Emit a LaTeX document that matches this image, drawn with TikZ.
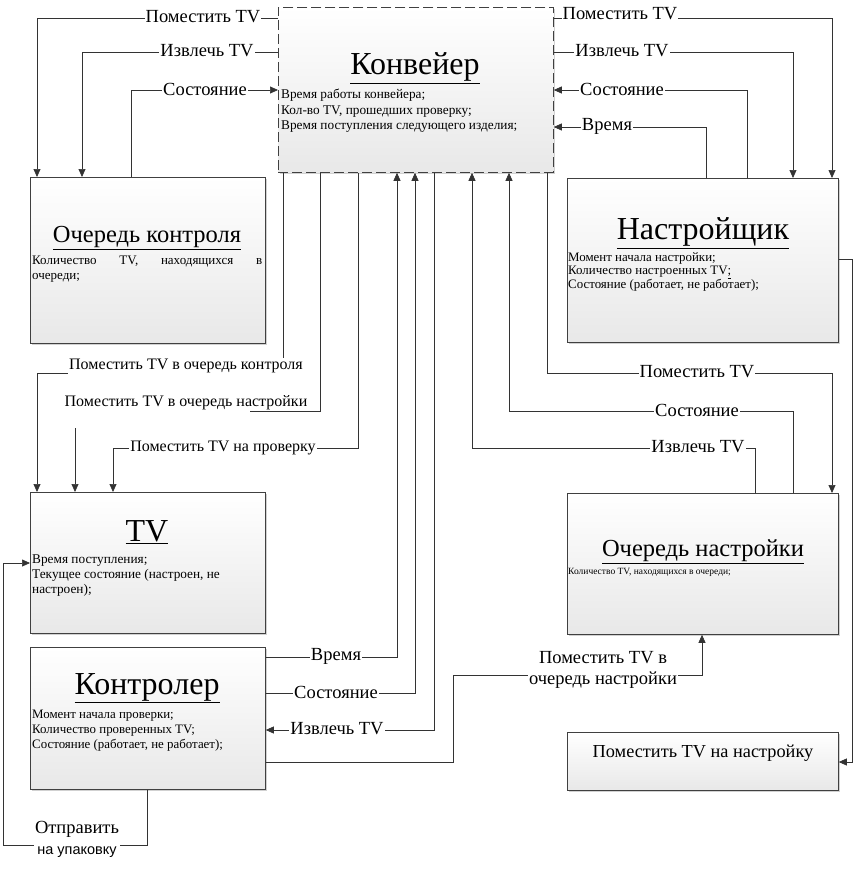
\documentclass[tikz,border=0pt]{standalone}
\usepackage{fontspec}
\setmainfont{Liberation Serif}
\newfontfamily\lsans{Liberation Sans}
\usetikzlibrary{arrows.meta,shadows,calc}
\newcommand{\fsz}[2]{\fontsize{#1}{#2}\selectfont}
\begin{document}
\begin{tikzpicture}[x=1pt,y=-1pt,
  box/.style={draw=black!75, line width=0.8pt, top color=white, bottom color=black!9,
    anchor=north west, inner sep=0pt,
    drop shadow={shadow xshift=1.5pt, shadow yshift=-1.5pt, fill=black!30, opacity=0.6}},
  ttl/.style={inner sep=0pt, font=\fsz{32}{35}},
  ttls/.style={inner sep=0pt, font=\fsz{24.5}{27}},
  body/.style={inner sep=0pt, anchor=north west, align=left},
  wire/.style={draw=black!80, line width=0.7pt},
  arr/.style={wire, -{Triangle[length=8pt,width=7pt]}},
  lab/.style={fill=white, inner sep=1pt, font=\fsz{18.5}{21}},
  labs/.style={lab, font=\fsz{16}{19}}]
\useasboundingbox (0,0) rectangle (854,876);

% ---------- boxes ----------
\node[box, dashed, dash pattern=on 10pt off 4pt, minimum width=275, minimum height=165] (kon) at (278,7) {};
\node[box, minimum width=235, minimum height=166] (ok) at (30,177) {};
\node[box, minimum width=271, minimum height=164] (ns) at (567,178) {};
\node[box, minimum width=235, minimum height=141] (tv) at (30,492) {};
\node[box, minimum width=235, minimum height=142] (kt) at (30,647) {};
\node[box, minimum width=271, minimum height=141] (on) at (567,493) {};
\node[box, minimum width=271, minimum height=58] (pn) at (567,732) {};

% ---------- titles & texts ----------
\node[ttl] (kon-t) at (415,68) {\underline{Конвейер}};
\node[body, font=\fsz{13.3}{15.5}] (kon-b) at (281,89)
  {Время работы конвейера;\\Кол-во TV, прошедших проверку;\\Время поступления следующего изделия;};

\node[ttls] (ok-t) at (147,238) {\underline{Очередь контроля}};
\node[body] (ok-b) at (32,256)
  {\parbox[t]{230pt}{\fsz{13}{15}Количество TV, находящихся в\linebreak очереди;}};

\node[ttl] (ns-t) at (703,233) {\underline{Настройщик}};
\node[body, font=\fsz{12.9}{13.5}] (ns-b) at (568,252)
  {Момент начала настройки;\\Количество настроенных TV\underline{;}\\Состояние (работает, не работает);};

\node[ttl] (tv-t) at (147,532) {\underline{TV}};
\node[body, font=\fsz{13.3}{15}] (tv-b) at (32,555)
  {Время поступления;\\Текущее состояние (настроен, не\\настроен);};

\node[ttl] (kt-t) at (147,688) {\underline{Контролер}};
\node[body, font=\fsz{12.9}{15}] (kt-b) at (32,710)
  {Момент начала проверки;\\Количество проверенных TV;\\Состояние (работает, не работает);};

\node[ttls] (on-t) at (703,552) {\underline{Очередь настройки}};
\node[body, font=\fsz{9.5}{12}] (on-b) at (568,568) {Количество TV, находящихся в очереди;};

\node[inner sep=0pt, font=\fsz{18.3}{21}] (pn-t) at (703,753) {Поместить TV на настройку};

% ---------- connectors ----------
\draw[arr] (kon.west |- 0,18) -| (ok.north -| 37,0);
\draw[arr] (kon.west |- 0,52) -| (ok.north -| 82,0);
\draw[arr] (ok.north -| 131,0) |- (kon.west |- 0,90);

\draw[arr] (kon.east |- 0,18) -| (ns.north -| 832,0);
\draw[arr] (kon.east |- 0,52) -| (ns.north -| 793,0);
\draw[arr] (ns.north -| 747,0) |- (kon.east |- 0,90);
\draw[arr] (ns.north -| 706,0) |- (kon.east |- 0,127);

\draw[arr] (kon.south -| 283,0) |- (37,373) -- (tv.north -| 37,0);
\coordinate (c9) at (75,428);
\draw[wire] (kon.south -| 320,0) |- (250,411);
\draw[arr] (c9) -- (tv.north -| c9);
\draw[arr] (kon.south -| 358,0) |- (113,448) -- (tv.north -| 113,0);

\draw[arr] (kt.east |- 0,657) -| (kon.south -| 397,0);
\draw[arr] (kt.east |- 0,693) -| (kon.south -| 415,0);
\draw[arr] (kon.south -| 434,0) |- (kt.east |- 0,730);
\draw[arr] (kt.east |- 0,762) -| (453,675) -| (on.south -| 702,0);

\draw[arr] (kon.south -| 547,0) |- (832,373) -- (on.north -| 832,0);
\draw[arr] (on.north -| 793,0) |- (509,411) -- (kon.south -| 509,0);
\draw[arr] (on.north -| 755,0) |- (472,448) -- (kon.south -| 472,0);

\draw[arr] (ns.east |- 0,259) -| (852,762) -- (pn.east |- 0,762);
\draw[arr] (kt.south -| 147,0) |- (3,845) |- (tv.west |- 0,563);

% ---------- labels ----------
\node[lab] (l1) at (203,17) {Поместить TV};
\node[lab] (l2) at (207,51) {Извлечь TV};
\node[lab] (l3) at (205,89) {Состояние};
\node[lab] (l4) at (620,14) {Поместить TV};
\node[lab] (l5) at (622,51) {Извлечь TV};
\node[lab] (l6) at (622,89) {Состояние};
\node[lab] (l7) at (607,126) {Время};
\node[labs] (l8) at (186,366) {Поместить TV в очередь контроля};
\node[labs] (l9) at (186,403) {Поместить TV в очередь настройки};
\node[labs] (l10) at (223,448) {Поместить TV на проверку};
\node[lab] (l11) at (336,656) {Время};
\node[lab] (l12) at (336,692) {Состояние};
\node[lab] (l13) at (337,729) {Извлечь TV};
\node[lab, align=center] (l14) at (603,670) {Поместить TV в\\очередь настройки};
\node[lab] (l15) at (697,372) {Поместить TV};
\node[lab] (l16) at (697,410) {Состояние};
\node[lab] (l17) at (698,447) {Извлечь TV};
\node[lab, align=center] (l19) at (77,839) {Отправить\\{\lsans\fsz{14.5}{21}на упаковку}};
\end{tikzpicture}
\end{document}
